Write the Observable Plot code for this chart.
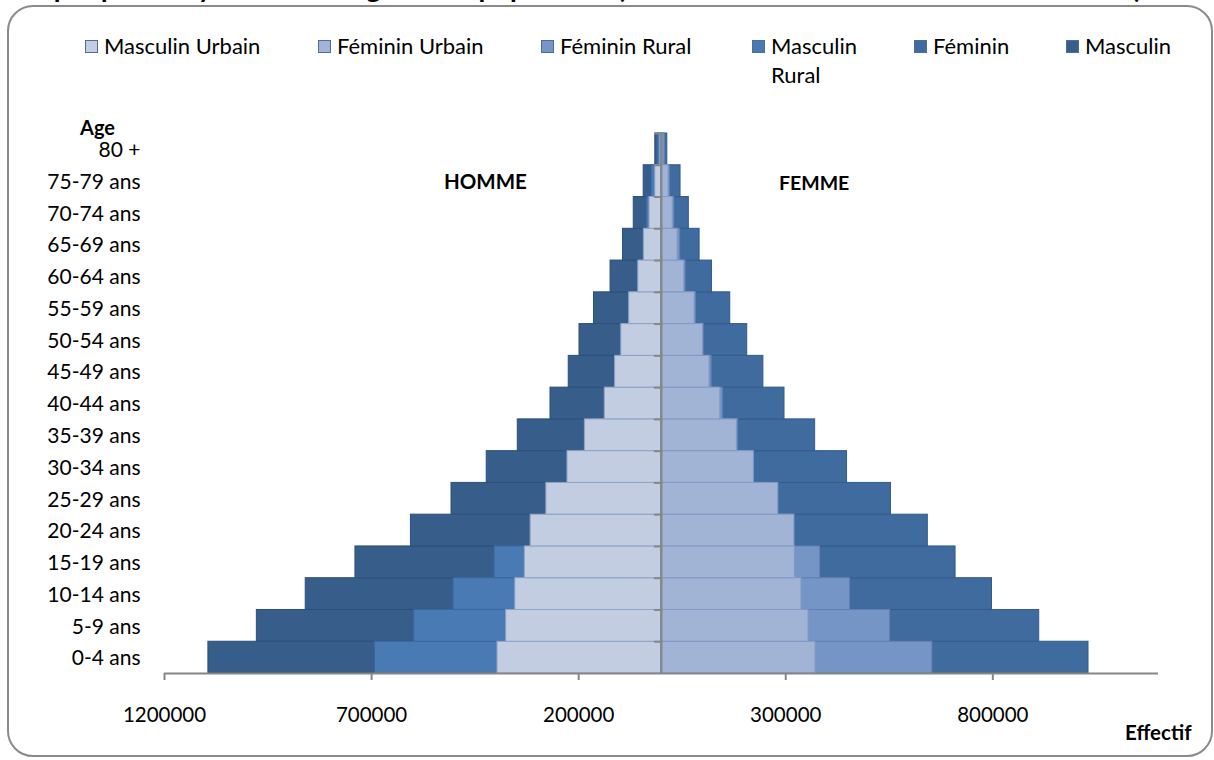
<!DOCTYPE html>
<html><head><meta charset="utf-8">
<script src="https://cdn.jsdelivr.net/npm/d3@7"></script>
<script src="https://cdn.jsdelivr.net/npm/@observablehq/plot@0.6"></script>
<style>
body{margin:0;background:#fff;font-family:Lato,"Open Sans",sans-serif;color:#000;}
#wrap{position:relative;width:1214px;height:760px;overflow:hidden;background:#fff;}
#frame{position:absolute;left:7px;top:5px;width:1206px;height:752px;border:2px solid #8a8a8a;border-radius:26px;box-sizing:border-box;}
#title{position:absolute;left:10px;top:-26px;font:bold 27.5px Lato,sans-serif;line-height:28px;white-space:nowrap;}
#chart{position:absolute;left:0;top:0;}
.leg{position:absolute;top:31px;font-size:22px;line-height:29px;display:flex;align-items:flex-start;}
.sw{width:11px;height:11px;border:1px solid #4f6d9c;margin-top:9px;margin-right:6px;flex:none;}
.lbl{position:absolute;font-weight:bold;white-space:nowrap;}
</style>
</head><body>
<div id="wrap">
  <div id="title">Graphique 2 : Pyramide des âges de la population (RGPH selon le milieu de résidence et sexe)</div>
  <div id="frame"></div>
  <div id="chart"></div>
  <div id="legend"></div>
  <div class="lbl" style="left:80px;top:116px;font-size:20px;line-height:22px;">Age</div>
  <div class="lbl" style="left:444px;top:169px;font-size:20.5px;">HOMME</div>
  <div class="lbl" style="left:779px;top:171px;font-size:19.5px;">FEMME</div>
  <div class="lbl" style="left:1125px;top:720px;font-size:20.5px;">Effectif</div>
</div>
<script>
const ages = ["0-4 ans","5-9 ans","10-14 ans","15-19 ans","20-24 ans","25-29 ans","30-34 ans","35-39 ans","40-44 ans","45-49 ans","50-54 ans","55-59 ans","60-64 ans","65-69 ans","70-74 ans","75-79 ans","80 +"];

const masculinUrbain = [396000,375000,353000,330000,316000,278000,227000,185000,137000,112000,97000,78000,56000,42000,29000,15000,3000];
const masculinRural  = [692000,597000,502000,403000,288000,229000,195000,162000,131000,110000,96000,77000,55000,44000,35500,24000,9000];
const masculin       = [1094000,977000,859000,739000,605000,507000,422000,347000,268000,224000,198000,163000,123000,93000,67000,43000,15000];

const femininUrbain  = [372000,355000,338000,322000,321000,282000,223000,182000,142000,116000,100000,80000,55000,39000,27000,17000,3000];
const femininRural   = [654000,552000,455000,383000,318000,270000,220000,185000,148000,121000,102000,83000,58000,45000,31000,20500,8000];
const feminin        = [1031000,912000,798000,710000,643000,554000,448000,371000,297000,246000,207000,166000,122000,92000,66000,46000,14000];

const xTicks = [-1200000,-700000,-200000,300000,800000];

const seriesNames = ["Masculin Urbain","Féminin Urbain","Féminin Rural","Masculin Rural","Féminin","Masculin"];
const seriesFill  = ["#c2cde2","#a2b4d6","#7595c6","#4a7ab4","#406b9f","#375d8a"];
const seriesStroke= ["#8fa2c6","#8199c3","#5f80b5","#3c67a0","#335b8c","#2d4f7a"];

function rows(vals, sign){ return ages.map((a,i)=>({age:a, value:sign*vals[i]})); }
const col = n => seriesNames.indexOf(n);
function bars(vals, sign, name){
  const i = col(name);
  return Plot.barX(rows(vals, sign), {x1:0, x2:"value", y:"age", fill:seriesFill[i], stroke:seriesStroke[i], strokeWidth:1});
}

const H = 760, mT = 133, mB = 87;
const bw = (H - mT - mB) / ages.length;

const chart = Plot.plot({
  width:1214, height:H,
  marginLeft:164, marginRight:56, marginTop:mT, marginBottom:mB,
  style:{fontFamily:"Lato, sans-serif", fontSize:"21px", background:"transparent", color:"#000", overflow:"visible"},
  x:{domain:[-1200000,1200000]},
  y:{domain:ages.slice().reverse(), padding:0, round:false},
  marks:[
    bars(masculin,-1,"Masculin"),
    bars(masculinRural,-1,"Masculin Rural"),
    bars(masculinUrbain,-1,"Masculin Urbain"),
    bars(feminin,1,"Féminin"),
    bars(femininRural,1,"Féminin Rural"),
    bars(femininUrbain,1,"Féminin Urbain"),
    Plot.ruleX([0], {stroke:"#868686", strokeWidth:2}),
    Plot.ruleY(ages, {y:d=>d, x1:-17000, x2:0, dy:-bw/2, stroke:"#868686", strokeWidth:2}),
    Plot.ruleY([ages[0]], {y:d=>d, x1:-1200000, x2:1200000, dy:bw/2, stroke:"#868686", strokeWidth:2}),
    Plot.axisX({ticks:xTicks, tickFormat:d=>String(Math.abs(d)), tickSize:7, tickPadding:27, stroke:"#868686", strokeWidth:2, label:null, anchor:"bottom", fontSize:20.5}),
    Plot.axisY({tickSize:0, tickPadding:24, label:null, anchor:"left", dy:1})
  ]
});
document.getElementById("chart").appendChild(chart);

// legend
const legLeft = [85,318,541,752,914,1066];
const legWidth = [null,null,null,100,null,null];
const leg = document.getElementById("legend");
seriesNames.forEach((n,i)=>{
  const d = document.createElement("div");
  d.className = "leg";
  d.style.left = legLeft[i] + "px";
  const sw = document.createElement("div");
  sw.className = "sw";
  sw.style.background = seriesFill[i];
  const t = document.createElement("div");
  t.textContent = n;
  if (legWidth[i]) t.style.width = legWidth[i] + "px";
  d.appendChild(sw); d.appendChild(t);
  leg.appendChild(d);
});
</script>
</body></html>
